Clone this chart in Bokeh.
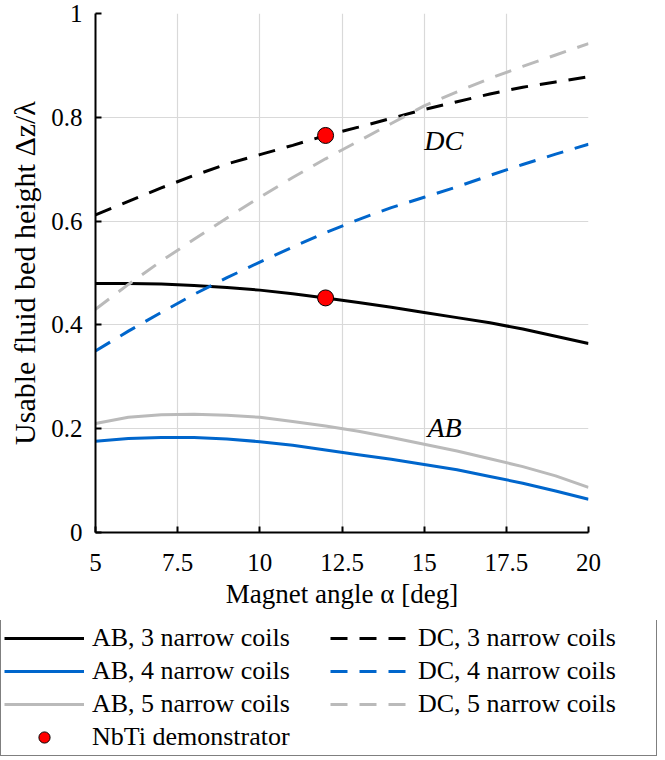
from bokeh.plotting import figure
from bokeh.models import Legend, LegendItem, FixedTicker, CustomJSTickFormatter, Label
from bokeh.embed import file_html
from bokeh.resources import INLINE

# ---------------- data ----------------
angle = [5, 6, 7, 8, 9, 10, 11, 12, 13, 14, 15, 16, 17, 18, 19, 20]

ab_3 = [0.480, 0.480, 0.479, 0.476, 0.472, 0.467, 0.460, 0.452, 0.443, 0.434, 0.424, 0.414, 0.404, 0.392, 0.378, 0.364]
ab_4 = [0.176, 0.181, 0.183, 0.183, 0.180, 0.175, 0.168, 0.159, 0.150, 0.141, 0.131, 0.121, 0.108, 0.095, 0.080, 0.064]
ab_5 = [0.210, 0.222, 0.227, 0.228, 0.226, 0.222, 0.214, 0.205, 0.195, 0.183, 0.170, 0.157, 0.142, 0.127, 0.109, 0.087]

dc_3 = [0.612, 0.638, 0.664, 0.688, 0.710, 0.728, 0.746, 0.765, 0.781, 0.798, 0.815, 0.830, 0.845, 0.858, 0.868, 0.878]
dc_4 = [0.350, 0.388, 0.424, 0.459, 0.491, 0.521, 0.550, 0.578, 0.603, 0.626, 0.646, 0.666, 0.688, 0.709, 0.729, 0.748]
dc_5 = [0.430, 0.478, 0.523, 0.565, 0.606, 0.646, 0.684, 0.720, 0.754, 0.788, 0.822, 0.849, 0.875, 0.898, 0.920, 0.942]

demo_angle = [12, 12]
demo_height = [0.765, 0.452]

x_ticks = [5, 7.5, 10, 12.5, 15, 17.5, 20]
y_ticks = [0, 0.2, 0.4, 0.6, 0.8, 1]

labels_ab = ["AB, 3 narrow coils", "AB, 4 narrow coils", "AB, 5 narrow coils"]
labels_dc = ["DC, 3 narrow coils", "DC, 4 narrow coils", "DC, 5 narrow coils"]
label_demo = "NbTi demonstrator"

# ---------------- style ----------------
FONT = "Liberation Serif"
BLACK = "#000000"
BLUE = "#0066cc"
GRAY = "#bababa"
DASH = "17 12"

p = figure(width=657, height=620, x_range=(5, 20), y_range=(0, 1),
           output_backend="svg", toolbar_location=None,
           min_border_left=95, min_border_right=69, min_border_top=13, min_border_bottom=88)
p.outline_line_color = None
p.background_fill_color = "white"
p.border_fill_color = "white"

p.xaxis.ticker = FixedTicker(ticks=x_ticks)
p.yaxis.ticker = FixedTicker(ticks=y_ticks)
p.xgrid.ticker = FixedTicker(ticks=x_ticks)
p.ygrid.ticker = FixedTicker(ticks=y_ticks)
for g in (p.xgrid[0], p.ygrid[0]):
    g.grid_line_color = "#d9d9d9"
    g.grid_line_width = 1.2

for ax in (p.xaxis[0], p.yaxis[0]):
    ax.axis_line_width = 2
    ax.axis_line_color = BLACK
    ax.major_tick_in = 6
    ax.major_tick_out = 0
    ax.major_tick_line_width = 2
    ax.major_tick_line_color = BLACK
    ax.minor_tick_line_color = None
    ax.major_label_text_font = FONT
    ax.major_label_text_font_size = "25px"
    ax.major_label_text_color = BLACK
    ax.axis_label_text_font = FONT
    ax.axis_label_text_font_style = "normal"
    ax.axis_label_text_color = BLACK
    ax.formatter = CustomJSTickFormatter(code="return tick.toString();")

p.xaxis.axis_label = "Magnet angle α [deg]"
p.xaxis.axis_label_text_font_size = "27px"
p.xaxis.major_label_standoff = 21
p.xaxis.axis_label_standoff = 5

p.yaxis.axis_label = "Usable fluid bed height Δz/λ"
p.yaxis.axis_label_text_font_size = "30px"
p.yaxis.major_label_standoff = 13
p.yaxis.axis_label_standoff = 7

p.line(angle, ab_3, line_color=BLACK, line_width=3)
p.line(angle, ab_4, line_color=BLUE, line_width=3)
p.line(angle, ab_5, line_color=GRAY, line_width=3)
p.line(angle, dc_3, line_color=BLACK, line_width=3, line_dash=DASH)
p.line(angle, dc_4, line_color=BLUE, line_width=3, line_dash=DASH)
p.line(angle, dc_5, line_color=GRAY, line_width=3, line_dash=DASH)
p.scatter(demo_angle, demo_height, size=16, fill_color="#ff0000",
          line_color=BLACK, line_width=1)

p.add_layout(Label(x=15, y=0.755, text="DC", text_font=FONT, text_font_style="italic",
                   text_font_size="28px", text_baseline="middle", text_color=BLACK))
p.add_layout(Label(x=15.1, y=0.202, text="AB", text_font=FONT, text_font_style="italic",
                   text_font_size="28px", text_baseline="middle", text_color=BLACK))

# ---------------- legend panel (separate figure below the plot) ----------------
q = figure(width=657, height=140, x_range=(0, 1), y_range=(0, 1),
           output_backend="svg", toolbar_location=None,
           x_axis_type=None, y_axis_type=None,
           min_border_left=0, min_border_right=0, min_border_top=0, min_border_bottom=0)
q.outline_line_color = None
q.grid.visible = False
q.background_fill_color = "white"
q.border_fill_color = "white"

# legend sample renderers, kept outside the visible range of this panel
hidden_x = [-2, -1]
hidden_y = [-2, -1]
g_ab3 = q.line(hidden_x, hidden_y, line_color=BLACK, line_width=3)
g_ab4 = q.line(hidden_x, hidden_y, line_color=BLUE, line_width=3)
g_ab5 = q.line(hidden_x, hidden_y, line_color=GRAY, line_width=3)
g_demo = q.scatter(hidden_x, hidden_y, size=16, fill_color="#ff0000", line_color=BLACK, line_width=1)
g_dc3 = q.line(hidden_x, hidden_y, line_color=BLACK, line_width=3, line_dash=DASH)
g_dc4 = q.line(hidden_x, hidden_y, line_color=BLUE, line_width=3, line_dash=DASH)
g_dc5 = q.line(hidden_x, hidden_y, line_color=GRAY, line_width=3, line_dash=DASH)

items = [
    LegendItem(label=labels_ab[0], renderers=[g_ab3]),
    LegendItem(label=labels_ab[1], renderers=[g_ab4]),
    LegendItem(label=labels_ab[2], renderers=[g_ab5]),
    LegendItem(label=label_demo, renderers=[g_demo]),
    LegendItem(label=labels_dc[0], renderers=[g_dc3]),
    LegendItem(label=labels_dc[1], renderers=[g_dc4]),
    LegendItem(label=labels_dc[2], renderers=[g_dc5]),
]
legend = Legend(items=items, ncols=2, location=(0, 4), margin=0, padding=3,
                spacing=3, glyph_width=80, glyph_height=28, label_standoff=8,
                label_width=235, label_height=26,
                label_text_font=FONT, label_text_font_size="26px", label_text_color=BLACK,
                border_line_color=BLACK, border_line_width=1.5,
                background_fill_color="white", background_fill_alpha=1)
q.add_layout(legend, "center")

open("out.html", "w").write(file_html([p, q], INLINE))
